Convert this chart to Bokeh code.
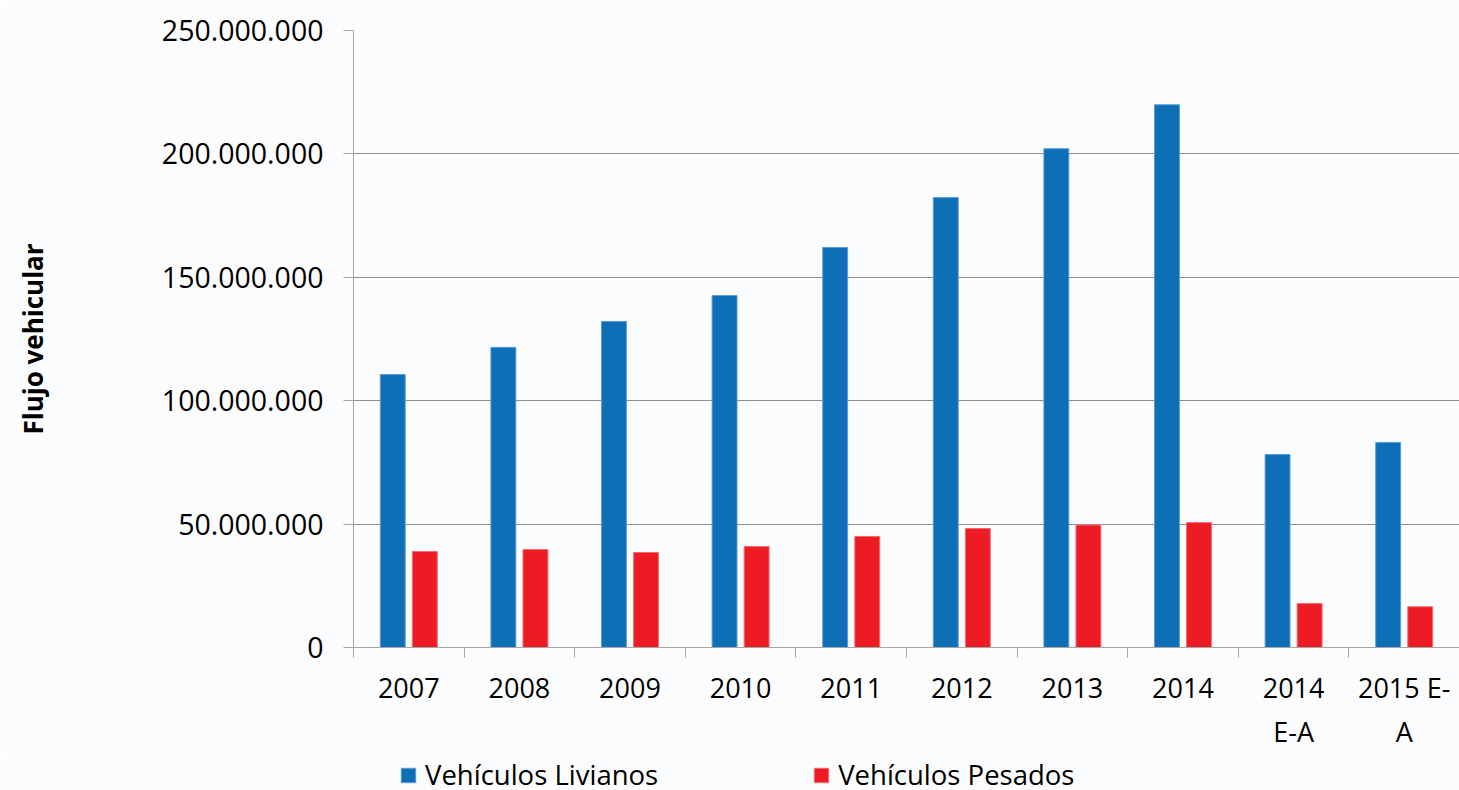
from bokeh.plotting import figure
from bokeh.layouts import column
from bokeh.models import ColumnDataSource, Range1d, FixedTicker, Legend, LegendItem
from bokeh.transform import dodge
from bokeh.embed import file_html
from bokeh.resources import INLINE

categories = ["2007", "2008", "2009", "2010", "2011", "2012", "2013", "2014",
              "2014\nE-A", "2015 E-\nA"]
livianos = [110_600_000, 121_600_000, 132_100_000, 142_600_000, 162_100_000,
            182_300_000, 202_100_000, 219_900_000, 78_200_000, 83_100_000]
pesados = [38_900_000, 39_700_000, 38_500_000, 40_900_000, 45_000_000,
           48_200_000, 49_600_000, 50_600_000, 17_800_000, 16_500_000]
y_ticks = [0, 50_000_000, 100_000_000, 150_000_000, 200_000_000, 250_000_000]
y_tick_labels = ["0", "50.000.000", "100.000.000", "150.000.000", "200.000.000", "250.000.000"]
series_names = ["Vehículos Livianos", "Vehículos Pesados"]

BLUE = "#0f6fb6"
RED = "#ed1c24"
BG = "#fbfcfe"
FONT = "Open Sans"

n = len(categories)
centers = [i + 0.5 for i in range(n)]
src = ColumnDataSource(dict(x=centers, liv=livianos, pes=pesados))

p = figure(width=1459, height=752, output_backend="svg", toolbar_location=None,
           x_range=Range1d(0, n), y_range=Range1d(0, 250_000_000),
           min_border_left=353, min_border_top=30, min_border_right=0, min_border_bottom=0)
p.background_fill_color = BG
p.border_fill_color = BG
p.outline_line_color = None

p.vbar(x=dodge("x", -0.145, range=p.x_range), top="liv", width=0.225, source=src,
       fill_color=BLUE, line_color="#5a9bd4", line_width=1)
p.vbar(x=dodge("x", 0.145, range=p.x_range), top="pes", width=0.225, source=src,
       fill_color=RED, line_color="#f26b70", line_width=1)

# y axis
ya = p.yaxis[0]
ya.ticker = FixedTicker(ticks=y_ticks)
ya.major_label_overrides = {t: l for t, l in zip(y_ticks, y_tick_labels)}
ya.axis_line_color = "#a6a6a6"
ya.major_tick_line_color = "#a6a6a6"
ya.major_tick_in = 0
ya.major_tick_out = 10
ya.minor_tick_line_color = None
ya.major_label_standoff = 20
ya.major_label_text_font = FONT
ya.major_label_text_font_size = "28.5px"
ya.major_label_text_color = "#000000"
ya.axis_label = "Flujo vehicular"
ya.axis_label_text_font = FONT
ya.axis_label_text_font_style = "bold"
ya.axis_label_text_font_size = "26px"
ya.axis_label_text_color = "#000000"
ya.axis_label_standoff = 108

# x axis
xa = p.xaxis[0]
xa.ticker = FixedTicker(ticks=centers, minor_ticks=list(range(n + 1)))
xa.major_label_overrides = {c: l for c, l in zip(centers, categories)}
xa.axis_line_color = "#a6a6a6"
xa.major_tick_line_color = None
xa.major_tick_in = 0
xa.major_tick_out = 0
xa.minor_tick_line_color = "#a6a6a6"
xa.minor_tick_in = 0
xa.minor_tick_out = 10
xa.major_label_standoff = 11
xa.major_label_text_font = FONT
xa.major_label_text_font_size = "27px"
xa.major_label_text_color = "#000000"

p.xgrid.grid_line_color = None
p.ygrid.ticker = FixedTicker(ticks=y_ticks)
p.ygrid.grid_line_color = "#8e8e8e"
p.ygrid.grid_line_width = 1

# legend strip (its frame is aligned with the chart frame by the column layout)
p2 = figure(width=1459, height=38, output_backend="svg", toolbar_location=None,
            x_range=Range1d(0, n), y_range=Range1d(300_000_000, 301_000_000),
            x_axis_location=None, y_axis_location=None,
            min_border_left=0, min_border_right=0, min_border_top=0, min_border_bottom=0)
p2.background_fill_color = BG
p2.border_fill_color = BG
p2.outline_line_color = None
p2.grid.grid_line_color = None
# same series, kept below this strip's view; they only provide the legend keys
k1 = p2.vbar(x="x", top="liv", width=0.225, source=src, fill_color=BLUE, line_color="#5a9bd4")
k2 = p2.vbar(x="x", top="pes", width=0.225, source=src, fill_color=RED, line_color="#f26b70")
legend = Legend(items=[LegendItem(label=series_names[0], renderers=[k1]),
                       LegendItem(label=series_names[1], renderers=[k2])],
                orientation="horizontal", location=(46, -3),
                label_text_font=FONT, label_text_font_size="27.5px", label_text_color="#000000",
                glyph_width=18, glyph_height=18, label_standoff=8, spacing=154,
                padding=0, margin=0, border_line_color=None, background_fill_alpha=0)
p2.add_layout(legend, "center")

open("out.html", "w").write(file_html(column(p, p2, spacing=0), INLINE))
